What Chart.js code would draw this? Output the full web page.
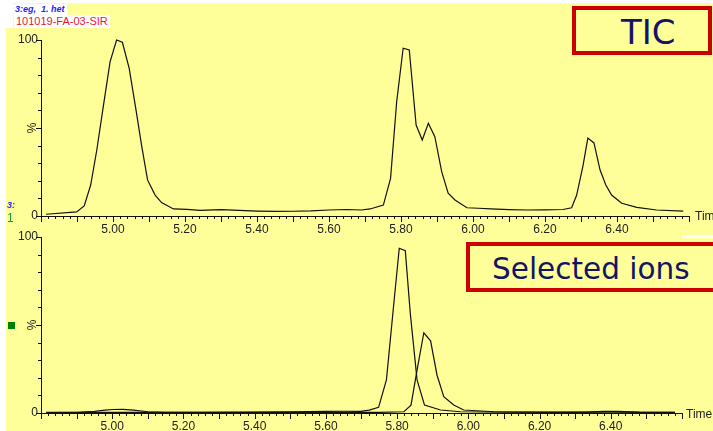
<!DOCTYPE html>
<html>
<head>
<meta charset="utf-8">
<script src="https://cdn.jsdelivr.net/npm/chart.js@4.4.1/dist/chart.umd.min.js"></script>
<style>
  html,body{margin:0;padding:0;}
  body{width:713px;height:431px;overflow:hidden;background:#fff;position:relative;font-family:"Liberation Sans",Arial,sans-serif;}
  #bg{position:absolute;left:6px;top:3px;width:707px;height:428px;background:#FFFF99;}
  #wtl{position:absolute;left:0;top:0;width:13px;height:28px;background:#fff;}
  canvas{position:absolute;left:0;}
  #c1{top:0;}
  #c2{top:200px;}
  .lbl{position:absolute;white-space:nowrap;}
  #l1{left:13px;top:4px;padding:0 2px;background:#fff;color:#2323ff;font:bold italic 9px "Liberation Sans",Arial,sans-serif;line-height:11px;}
  #l2{left:14px;top:15px;padding:0 2px;background:#fff;color:#e8182e;font:11px "Liberation Sans",Arial,sans-serif;line-height:13px;}
  #l3{left:7px;top:200px;color:#2323ff;font:bold italic 9px "Liberation Sans",Arial,sans-serif;line-height:11px;}
  #l4{left:7px;top:211px;color:#1a9a3a;font:12px "Liberation Sans",Arial,sans-serif;line-height:14px;}
  #sq{position:absolute;left:8px;top:322px;width:7px;height:7px;background:#008000;}
  .pct{position:absolute;font:12px "Liberation Sans",Arial,sans-serif;color:#222;transform:rotate(-90deg);transform-origin:center center;width:12px;height:12px;line-height:12px;text-align:center;}
  #p1{left:26px;top:122px;}
  #p2{left:26px;top:319px;}
  .time{position:absolute;font:12px "Liberation Sans",Arial,sans-serif;color:#222;line-height:14px;}
  #t1{left:695px;top:209px;}
  #t2{left:686px;top:407px;}
  .box{position:absolute;border:4px solid #cc0000;background:#FFFF99;box-sizing:border-box;}
  #b1{left:572px;top:6px;width:140px;height:49px;}
  #b2{left:466px;top:242px;width:252px;height:50px;}
  .boxt{position:absolute;color:#141466;font-family:"DejaVu Sans",sans-serif;white-space:nowrap;}
  #bt1{left:621px;top:12px;font-size:34px;line-height:40px;}
  #bt2{left:492px;top:251px;font-size:29.5px;line-height:36px;}
  #wb{position:absolute;left:682px;top:235px;width:31px;height:3px;background:#fff;}
</style>
</head>
<body>
<div id="bg"></div>
<div id="wtl"></div>
<canvas id="c1" width="713" height="236"></canvas>
<canvas id="c2" width="713" height="233"></canvas>
<div class="lbl" id="l1">3:eg,&nbsp; 1. het</div>
<div class="lbl" id="l2">101019-FA-03-SIR</div>
<div class="lbl" id="l3">3:</div>
<div class="lbl" id="l4">1</div>
<div id="sq"></div>
<div class="pct" id="p1">%</div>
<div class="pct" id="p2">%</div>
<div class="time" id="t1">Time</div>
<div class="time" id="t2">Time</div>
<div class="box" id="b1"></div>
<div class="boxt" id="bt1">TIC</div>
<div id="wb"></div>
<div class="box" id="b2"></div>
<div class="boxt" id="bt2">Selected ions</div>
<script>
// ---- Data (retention time in min, intensity in %) ----
const ticTime = [4.814,4.899,4.920,4.938,4.955,4.973,4.992,5.010,5.026,5.045,5.064,5.080,5.096,5.117,5.135,5.168,5.205,5.242,
  5.30,5.35,5.40,5.45,5.50,5.55,5.60,5.65,5.69,5.714,5.751,5.771,5.788,5.806,5.823,5.842,5.859,5.876,5.894,5.913,5.931,5.950,5.983,6.015,
  6.05,6.10,6.15,6.20,6.25,6.274,6.288,6.306,6.319,6.336,6.353,6.369,6.385,6.413,6.455,6.510,6.584];
const ticPct = [1.0,2.3,5.7,17.6,37.5,62.1,87.7,100,98.7,83.9,60.2,39.4,20.5,11.9,7.6,4.0,3.8,3.2,
  3.6,3.2,2.8,2.6,2.7,2.9,3.4,3.7,3.4,4.0,6.2,21.4,64.9,95.3,94.3,51.7,43.2,52.7,45.1,25.2,12.9,9.1,4.7,4.4,
  4.0,3.6,3.4,3.5,3.7,4.7,11.9,29.0,44.3,41.5,26.1,17.6,11.9,7.2,4.9,3.4,2.8];

const ionATime = [4.814,4.90,4.95,4.98,5.00,5.03,5.06,5.10,5.15,5.25,5.40,5.50,5.60,5.65,5.697,5.722,5.748,5.770,5.789,5.806,5.823,5.837,5.856,5.877,5.922,5.978,6.10,6.25,6.40,6.50,6.58];
const ionAPct  = [0.3,0.4,0.9,1.6,2.0,2.1,1.6,0.7,0.4,0.4,0.5,0.6,0.9,1.0,0.9,1.6,3.2,18.8,58.5,93.6,92.2,56.6,18.8,4.5,1.7,0.7,0.5,0.4,0.5,0.4,0.3];

const ionBTime = [4.814,5.00,5.20,5.40,5.60,5.75,5.819,5.839,5.856,5.875,5.894,5.912,5.931,5.959,5.987,6.072,6.20,6.33,6.38,6.42,6.48,6.58];
const ionBPct  = [0.2,0.3,0.3,0.3,0.3,0.4,0.7,4.5,24.4,45.6,41.0,21.6,9.3,4.5,1.7,0.7,0.5,0.5,0.9,0.9,0.5,0.3];

const xMin = 4.80, xMax = 6.60;
const labelFirst = 5.00, labelLast = 6.40;

function pts(t, v){ return t.map((x,i)=>({x:x, y:v[i]})); }

const tickPlugin = {
  id:'minorMajorTicks',
  afterDraw(chart){
    const ctx = chart.ctx;
    const xs = chart.scales.x, ys = chart.scales.y;
    ctx.save();
    ctx.strokeStyle = '#111';
    ctx.lineWidth = 1;
    ctx.beginPath();
    xs.ticks.forEach(t=>{
      const px = Math.round(xs.getPixelForValue(t.value)) + 0.5;
      const major = Math.round(t.value*100) % 10 === 0;
      const len = major ? 6 : 3;
      ctx.moveTo(px, xs.top); ctx.lineTo(px, xs.top + len);
    });
    ys.ticks.forEach(t=>{
      const py = Math.round(ys.getPixelForValue(t.value)) + 0.5;
      const major = Math.round(t.value) % 50 === 0;
      const len = major ? 5 : 3;
      ctx.moveTo(ys.right - len, py); ctx.lineTo(ys.right, py);
    });
    ctx.stroke();
    ctx.restore();
  }
};

function xLabel(v){
  const r = Math.round(v*100);
  if (r % 20 !== 0) return '';
  if (r < Math.round(labelFirst*100) || r > Math.round(labelLast*100)) return '';
  return (r/100).toFixed(2);
}

function makeChart(id, datasets, padTop, padRight){
  return new Chart(document.getElementById(id), {
    type:'line',
    data:{datasets: datasets.map(d=>({
      data:d, borderColor:'#111', borderWidth:1.2, pointRadius:0, tension:0, fill:false, clip:4
    }))},
    options:{
      responsive:false, animation:false, devicePixelRatio:1,
      layout:{padding:{top:padTop, right:padRight, left:0, bottom:0}},
      plugins:{legend:{display:false}, tooltip:{enabled:false}},
      scales:{
        x:{type:'linear', min:xMin, max:xMax, bounds:'data',
           border:{display:true, color:'#111', width:1},
           grid:{drawOnChartArea:false, drawTicks:true, tickLength:6, tickColor:'rgba(0,0,0,0)'},
           ticks:{stepSize:0.02, autoSkip:false, maxRotation:0, minRotation:0, includeBounds:false, padding:0,
             color:'#222', font:{family:'"Liberation Sans", Arial, sans-serif', size:12},
             callback:xLabel},
           afterFit:(s)=>{ s.height = 20; }
        },
        y:{type:'linear', min:0, max:100,
           border:{display:true, color:'#111', width:1},
           grid:{drawOnChartArea:false, drawTicks:true, tickLength:3, tickColor:'rgba(0,0,0,0)'},
           ticks:{stepSize:10, autoSkip:false, padding:0,
             color:'#222', font:{family:'"Liberation Sans", Arial, sans-serif', size:12},
             callback:(v)=> (v===0 || v===100) ? String(v) : ''},
           afterFit:(s)=>{ s.width = 41; }
        }
      }
    },
    plugins:[tickPlugin]
  });
}

makeChart('c1', [pts(ticTime, ticPct)], 40, 24);
makeChart('c2', [pts(ionATime, ionAPct), pts(ionBTime, ionBPct)], 37, 31);
</script>
</body>
</html>
